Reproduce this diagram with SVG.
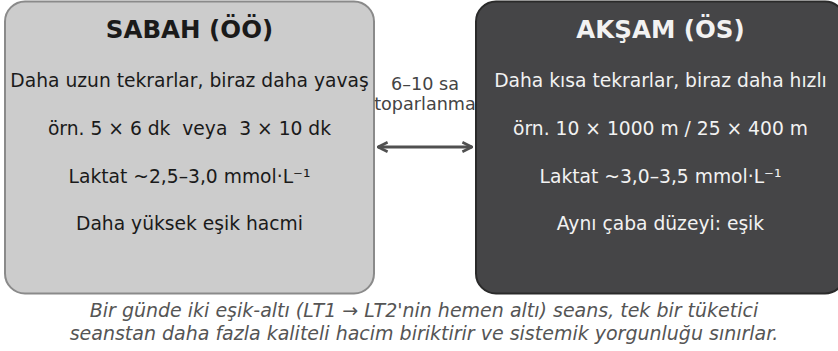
<svg xmlns="http://www.w3.org/2000/svg" width="838" height="351" viewBox="0 0 838 351">
<style>
.t{font-family:"DejaVu Sans",sans-serif;text-anchor:middle;white-space:pre}
.title{font-size:24.5px;font-weight:bold}
.body{font-size:18.7px}
.dark{fill:#1a1a1a}
.light{fill:#f2f2f2}
.lbl{font-size:17.6px;fill:#444}
.cap{font-size:19px;font-style:italic;fill:#555}
</style>
<defs>
<marker id="ah" viewBox="0 0 10 10" refX="9" refY="5" markerWidth="4" markerHeight="4" orient="auto-start-reverse">
<path d="M1,1 L9,5 L1,9" fill="none" stroke="#505050" stroke-width="2.2"/>
</marker>
</defs>
<g id="sabah">
<rect x="5" y="1.5" width="369" height="292" rx="20" fill="#cccccc" stroke="#8a8a8a" stroke-width="2"/>
<text class="t title dark" x="189.5" y="38">SABAH (ÖÖ)</text>
<text class="t body dark" x="189.5" y="87">Daha uzun tekrarlar, biraz daha yavaş</text>
<text class="t body dark" x="189.5" y="135" xml:space="preserve">örn. 5 × 6 dk  veya  3 × 10 dk</text>
<text class="t body dark" x="189.5" y="183">Laktat ~2,5–3,0 mmol·L⁻¹</text>
<text class="t body dark" x="189.5" y="230">Daha yüksek eşik hacmi</text>
</g>
<g id="aksam">
<rect x="476" y="1.5" width="369" height="292" rx="20" fill="#454547" stroke="#2a2a2a" stroke-width="2"/>
<text class="t title light" x="660.5" y="38">AKŞAM (ÖS)</text>
<text class="t body light" x="660.5" y="87">Daha kısa tekrarlar, biraz daha hızlı</text>
<text class="t body light" x="660.5" y="135">örn. 10 × 1000 m / 25 × 400 m</text>
<text class="t body light" x="660.5" y="183">Laktat ~3,0–3,5 mmol·L⁻¹</text>
<text class="t body light" x="660.5" y="230">Aynı çaba düzeyi: eşik</text>
</g>
<g id="connectors">
<line x1="378" y1="147" x2="472" y2="147" stroke="#505050" stroke-width="3" marker-start="url(#ah)" marker-end="url(#ah)"/>
<text class="t lbl" x="425" y="90">6–10 sa</text>
<text class="t lbl" x="425" y="110">toparlanma</text>
</g>
<g id="caption">
<text class="t cap" x="424" y="317">Bir günde iki eşik-altı (LT1 → LT2'nin hemen altı) seans, tek bir tüketici</text>
<text class="t cap" x="424" y="340">seanstan daha fazla kaliteli hacim biriktirir ve sistemik yorgunluğu sınırlar.</text>
</g>
</svg>
